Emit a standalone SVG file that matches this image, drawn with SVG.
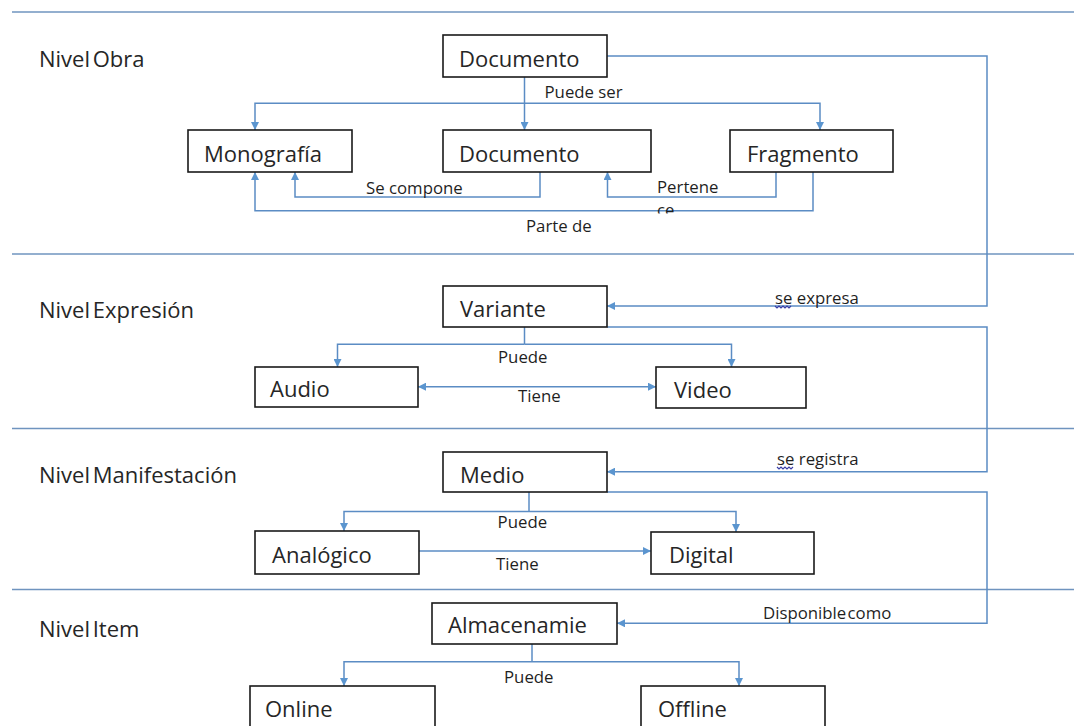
<svg xmlns="http://www.w3.org/2000/svg" width="1074" height="726" viewBox="0 0 1074 726">
<style>
.bg{fill:#ffffff}
.lvl{stroke:#6f94bf;stroke-width:1.5;fill:none}
.box{fill:#ffffff;stroke:#1a1a1a;stroke-width:1.6}
.big{font-family:"Open Sans","Liberation Sans",sans-serif;font-size:22px;fill:#262626}
.lab{font-family:"Open Sans","Liberation Sans",sans-serif;font-size:22px;fill:#262626;word-spacing:-3px}
.sm{font-family:"Open Sans","Liberation Sans",sans-serif;font-size:16.8px;fill:#1f1f1f}
.c{stroke:#5b8cc4;stroke-width:1.5;fill:none}
.ca{stroke:#5b8cc4;stroke-width:1.5;fill:none;marker-end:url(#ah)}
.cb{stroke:#5b8cc4;stroke-width:1.5;fill:none;marker-end:url(#ah);marker-start:url(#ahs)}
.sq{stroke:#3b3fa8;stroke-width:1.2;fill:none}
</style>
<defs>
<marker id="ah" viewBox="0 0 10 10" refX="10" refY="5" markerWidth="9" markerHeight="8" markerUnits="userSpaceOnUse" orient="auto">
<path d="M0,0 L10,5 L0,10 z" fill="#5b95cf"/>
</marker>
<marker id="ahs" viewBox="0 0 10 10" refX="0" refY="5" markerWidth="9" markerHeight="8" markerUnits="userSpaceOnUse" orient="auto">
<path d="M10,0 L0,5 L10,10 z" fill="#5b95cf"/>
</marker>
<clipPath id="clipce"><rect x="640" y="190" width="60" height="23.5"/></clipPath>
</defs>
<rect class="bg" x="0" y="0" width="1074" height="726"/>

<g id="levels">
<line class="lvl" x1="12" y1="12" x2="1074" y2="12"/>
<line class="lvl" x1="12" y1="254" x2="1074" y2="254"/>
<line class="lvl" x1="12" y1="428.5" x2="1074" y2="428.5"/>
<line class="lvl" x1="12" y1="589.5" x2="1074" y2="589.5"/>
<text class="lab" x="39" y="67">Nivel Obra</text>
<text class="lab" x="39" y="318">Nivel Expresión</text>
<text class="lab" x="39" y="482.5">Nivel Manifestación</text>
<text class="lab" x="39" y="637">Nivel Item</text>
</g>

<g id="connectors">
<path class="ca" d="M524.5,77 V130"/>
<path class="ca" d="M524.5,103.3 H255 V130"/>
<path class="ca" d="M524.5,103.3 H820 V130"/>
<path class="ca" d="M540,172 V197 H295 V172"/>
<path class="ca" d="M776,172 V197 H607.5 V172"/>
<path class="ca" d="M813,172 V210.7 H255 V172"/>
<path class="ca" d="M607,56 H987 V306 H607"/>
<path class="ca" d="M607,327 H987 V471.7 H607"/>
<path class="ca" d="M607,492 H987 V623.3 H617"/>
<path class="c" d="M524.5,327 V344.3"/>
<path class="ca" d="M524.5,344.3 H337.5 V367"/>
<path class="ca" d="M524.5,344.3 H731.5 V367"/>
<path class="cb" d="M418,386.7 H656"/>
<path class="c" d="M529,492 V511.5"/>
<path class="ca" d="M529,511.5 H344 V531"/>
<path class="ca" d="M529,511.5 H736 V532"/>
<path class="ca" d="M419,551 H651"/>
<path class="c" d="M532,644 V661.7"/>
<path class="ca" d="M532,661.7 H344 V686"/>
<path class="ca" d="M532,661.7 H739 V686"/>
<text class="sm" x="544.5" y="98">Puede ser</text>
<text class="sm" x="366" y="194">Se compone</text>
<text class="sm" x="657" y="192.5">Pertene</text>
<text class="sm" x="657" y="216" clip-path="url(#clipce)">ce</text>
<text class="sm" x="526" y="231.7">Parte de</text>
<text class="sm" x="775" y="303.5">se expresa</text>
<path class="sq" d="M775,306 l2,2 l2,-2 l2,2 l2,-2 l2,2 l2,-2 l2,2 l2,-2"/>
<text class="sm" x="498" y="362.7">Puede</text>
<text class="sm" x="518" y="401.7">Tiene</text>
<text class="sm" x="777" y="465">se registra</text>
<path class="sq" d="M777,467 l2,2 l2,-2 l2,2 l2,-2 l2,2 l2,-2 l2,2 l2,-2"/>
<text class="sm" x="497.6" y="528.3">Puede</text>
<text class="sm" x="496" y="570">Tiene</text>
<text class="sm" x="763" y="619" style="word-spacing:-3px">Disponible como</text>
<text class="sm" x="504" y="683.3">Puede</text>
</g>

<g id="n-documento-top"><rect class="box" x="443" y="35" width="164" height="42"/><text class="big" x="459" y="67">Documento</text></g>
<g id="n-monografia"><rect class="box" x="188" y="130" width="164" height="42"/><text class="big" x="204" y="162">Monografía</text></g>
<g id="n-documento-mid"><rect class="box" x="443" y="130" width="208" height="42"/><text class="big" x="459" y="162">Documento</text></g>
<g id="n-fragmento"><rect class="box" x="730" y="130" width="163" height="42"/><text class="big" x="747" y="162">Fragmento</text></g>
<g id="n-variante"><rect class="box" x="443" y="286" width="164" height="41"/><text class="big" x="460" y="317">Variante</text></g>
<g id="n-audio"><rect class="box" x="255" y="367" width="163" height="40"/><text class="big" x="270" y="397">Audio</text></g>
<g id="n-video"><rect class="box" x="656" y="367" width="150" height="41"/><text class="big" x="674" y="398">Video</text></g>
<g id="n-medio"><rect class="box" x="443" y="452" width="164" height="40"/><text class="big" x="460" y="483">Medio</text></g>
<g id="n-analogico"><rect class="box" x="255" y="531" width="164" height="43"/><text class="big" x="272" y="563">Analógico</text></g>
<g id="n-digital"><rect class="box" x="651" y="532" width="163" height="42"/><text class="big" x="669" y="563">Digital</text></g>
<g id="n-almacenamie"><rect class="box" x="432" y="603" width="185" height="41"/><text class="big" x="448" y="633">Almacenamie</text></g>
<g id="n-online"><rect class="box" x="250" y="686" width="185" height="50"/><text class="big" x="265" y="717">Online</text></g>
<g id="n-offline"><rect class="box" x="641" y="686" width="184" height="50"/><text class="big" x="658" y="717">Offline</text></g>
</svg>
